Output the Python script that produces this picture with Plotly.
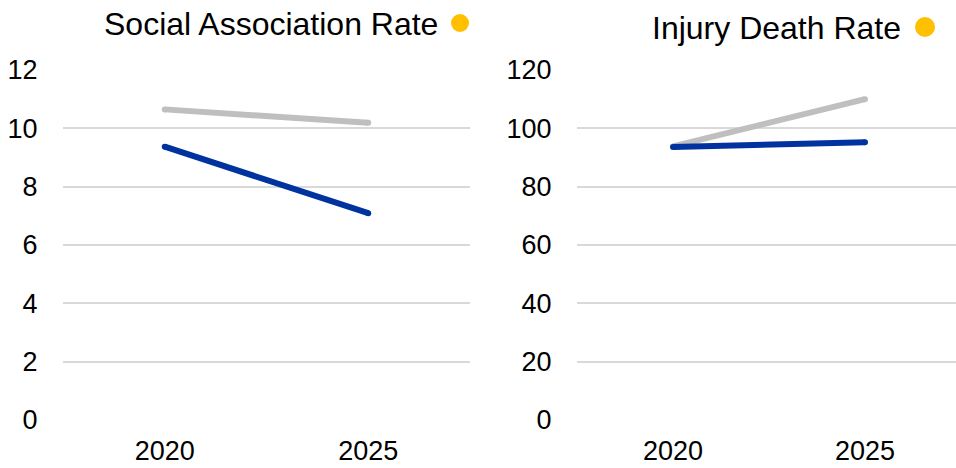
import plotly.graph_objects as go

years = ["2020", "2025"]
social_benchmark = [10.65, 10.19]
social_value = [9.37, 7.09]
injury_benchmark = [93.8, 110.0]
injury_value = [93.6, 95.2]

left_ticks = [0, 2, 4, 6, 8, 10, 12]
right_ticks = [0, 20, 40, 60, 80, 100, 120]

BLUE = "#0033A0"
GRAY = "#BFBFBF"
GOLD = "#FFC000"
GRID = "#D9D9D9"
FONT = "Liberation Sans, Arial, sans-serif"

W, H = 956, 468

def px_x(x):
    return x / W

def px_y(y):
    return (H - y) / H

fig = go.Figure()

for xa, ya, bench, val in [("x", "y", social_benchmark, social_value),
                           ("x2", "y2", injury_benchmark, injury_value)]:
    fig.add_trace(go.Scatter(x=years, y=bench, mode="lines+markers",
                             line=dict(color=GRAY, width=6),
                             marker=dict(color=GRAY, size=6),
                             xaxis=xa, yaxis=ya, showlegend=False, hoverinfo="skip"))
    fig.add_trace(go.Scatter(x=years, y=val, mode="lines+markers",
                             line=dict(color=BLUE, width=6),
                             marker=dict(color=BLUE, size=6),
                             xaxis=xa, yaxis=ya, showlegend=False, hoverinfo="skip"))

ydom = [px_y(420), px_y(70)]
xaxis_common = dict(type="category", showgrid=False, zeroline=False, showline=False,
                    automargin=False,
                    ticks="outside", ticklen=7, tickcolor="rgba(0,0,0,0)",
                    tickfont=dict(family=FONT, size=27, color="#000000"))
yaxis_common = dict(showgrid=True, gridcolor=GRID, gridwidth=2, zeroline=False, showline=False,
                    automargin=False,
                    ticks="outside", ticklen=19, tickcolor="rgba(0,0,0,0)",
                    tickfont=dict(family=FONT, size=27, color="#000000"))

fig.update_layout(
    width=W, height=H,
    margin=dict(l=0, r=0, t=0, b=0, pad=0, autoexpand=False),
    showlegend=False,
    paper_bgcolor="white", plot_bgcolor="white",
    xaxis=dict(domain=[px_x(63), px_x(470)], range=[-0.5, 1.5], **xaxis_common),
    yaxis=dict(domain=ydom, range=[0, 12], tickvals=left_ticks, anchor="x", **yaxis_common),
    xaxis2=dict(domain=[px_x(577), 1.0], range=[-0.5, 1.474], anchor="y2", **xaxis_common),
    yaxis2=dict(domain=ydom, range=[0, 120], tickvals=right_ticks, anchor="x2", **yaxis_common),
    annotations=[
        dict(text="Social Association Rate", xref="paper", yref="paper",
             x=px_x(440), y=px_y(24), xanchor="right", yanchor="middle", showarrow=False,
             font=dict(family=FONT, size=32, color="#000000")),
        dict(text="Injury Death Rate", xref="paper", yref="paper",
             x=px_x(903), y=px_y(28), xanchor="right", yanchor="middle", showarrow=False,
             font=dict(family=FONT, size=32, color="#000000")),
    ],
    shapes=[
        dict(type="circle", xref="paper", yref="paper",
             x0=px_x(451), x1=px_x(469), y0=px_y(32), y1=px_y(14),
             fillcolor=GOLD, line=dict(width=0)),
        dict(type="circle", xref="paper", yref="paper",
             x0=px_x(915), x1=px_x(935), y0=px_y(37), y1=px_y(17),
             fillcolor=GOLD, line=dict(width=0)),
    ],
)

fig.write_html("out.html",
               config={"displayModeBar": False, "staticPlot": True},
               post_script="document.body.style.margin='0';document.body.style.overflow='hidden';")
